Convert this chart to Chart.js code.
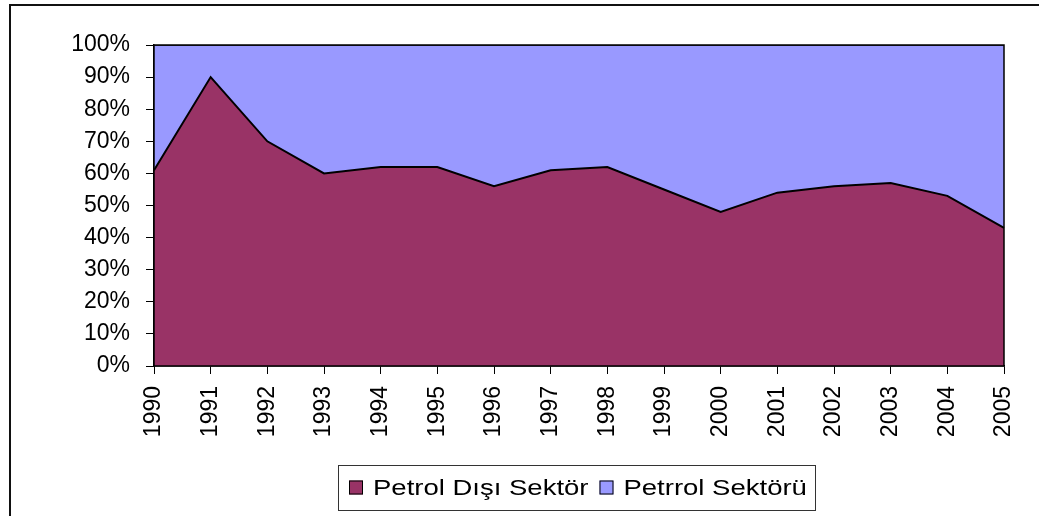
<!DOCTYPE html>
<html>
<head>
<meta charset="utf-8">
<script src="https://cdn.jsdelivr.net/npm/chart.js@4/dist/chart.umd.min.js"></script>
<style>
  html, body { margin: 0; padding: 0; background: #fff; }
  #wrap { position: relative; width: 1039px; height: 516px; }
</style>
</head>
<body>
<div id="wrap"><canvas id="chart" width="1039" height="516"></canvas></div>
<script>
const years = ['1990', '1991', '1992', '1993', '1994', '1995', '1996', '1997',
  '1998', '1999', '2000', '2001', '2002', '2003', '2004', '2005'];
const nonOilShare = [61, 90, 70, 60, 62, 62, 56, 61, 62, 55, 48, 54, 56, 57, 53, 43];
const oilShare = [39, 10, 30, 40, 38, 38, 44, 39, 38, 45, 52, 46, 44, 43, 47, 57];
const seriesNames = ['Petrol Dışı Sektör', 'Petrrol Sektörü'];
const seriesColors = ['#993366', '#9999FF'];
const yTicks = [0, 10, 20, 30, 40, 50, 60, 70, 80, 90, 100];

const FONT = 'Liberation Sans, Arial, sans-serif';

// outer frame, plot border and the boxed legend
const decor = {
  id: 'decor',
  beforeDraw(chart) {
    const ctx = chart.ctx;
    ctx.save();
    ctx.fillStyle = '#fff';
    ctx.fillRect(0, 0, chart.width, chart.height);
    ctx.fillStyle = '#111';
    ctx.fillRect(9, 4, 2, chart.height - 4);
    ctx.fillRect(9, 4, chart.width - 9, 2);
    ctx.restore();
  },
  afterDraw(chart) {
    const ctx = chart.ctx;
    const a = chart.chartArea;
    ctx.save();
    ctx.strokeStyle = '#000';
    ctx.lineWidth = 1.5;
    ctx.strokeRect(a.left, a.top, a.right - a.left, a.bottom - a.top);

    // legend
    const box = { left: 338, top: 465, right: 815, bottom: 510 };
    ctx.fillStyle = '#fff';
    ctx.fillRect(box.left, box.top, box.right - box.left, box.bottom - box.top);
    ctx.strokeStyle = '#333';
    ctx.lineWidth = 1;
    ctx.strokeRect(box.left + 0.5, box.top + 0.5, box.right - box.left, box.bottom - box.top);

    const midY = (box.top + box.bottom) / 2;
    const sx = 1.25;
    ctx.font = '22px ' + FONT;
    ctx.textBaseline = 'middle';
    let x = box.left + 11;
    chart.data.datasets.forEach((ds, i) => {
      ctx.fillStyle = seriesColors[i];
      ctx.fillRect(x, midY - 7, 14, 14);
      ctx.strokeStyle = '#000';
      ctx.strokeRect(x + 0.5, midY - 6.5, 13, 13);
      x += 24;
      ctx.save();
      ctx.translate(x, midY + 1);
      ctx.scale(sx, 1);
      ctx.fillStyle = '#000';
      ctx.fillText(ds.label, 0, 0);
      ctx.restore();
      x += ctx.measureText(ds.label).width * sx + 11;
    });
    ctx.restore();
  }
};

new Chart(document.getElementById('chart'), {
  type: 'line',
  data: {
    labels: years,
    datasets: [
      {
        label: seriesNames[0],
        data: nonOilShare,
        backgroundColor: seriesColors[0],
        borderColor: '#000',
        borderWidth: 2,
        fill: 'origin',
        pointRadius: 0,
        tension: 0
      },
      {
        label: seriesNames[1],
        data: oilShare,
        backgroundColor: seriesColors[1],
        borderColor: '#000',
        borderWidth: 1.5,
        fill: '-1',
        pointRadius: 0,
        tension: 0
      }
    ]
  },
  options: {
    responsive: false,
    animation: false,
    events: [],
    layout: { padding: { left: 0, right: 35, top: 45, bottom: 70 } },
    plugins: {
      legend: { display: false },
      tooltip: { enabled: false }
    },
    scales: {
      x: {
        offset: false,
        afterFit(scale) { scale.height = 80; scale.paddingRight = 0; },
        grid: {
          drawOnChartArea: false,
          drawTicks: true,
          tickLength: 8,
          color: '#000',
          offset: false
        },
        border: { color: '#000', width: 1.5 },
        ticks: {
          color: '#000',
          font: { family: FONT, size: 23 },
          maxRotation: 90,
          minRotation: 90,
          padding: 12,
          autoSkip: false
        }
      },
      y: {
        stacked: true,
        min: 0,
        max: 100,
        afterFit(scale) { scale.width = 154; },
        afterBuildTicks(scale) { scale.ticks = yTicks.map(v => ({ value: v })); },
        grid: {
          drawOnChartArea: false,
          drawTicks: true,
          tickLength: 8,
          color: '#000'
        },
        border: { color: '#000', width: 1.5 },
        ticks: {
          color: '#000',
          font: { family: FONT, size: 23 },
          padding: 16,
          callback: v => v + '%'
        }
      }
    }
  },
  plugins: [decor]
});
</script>
</body>
</html>
